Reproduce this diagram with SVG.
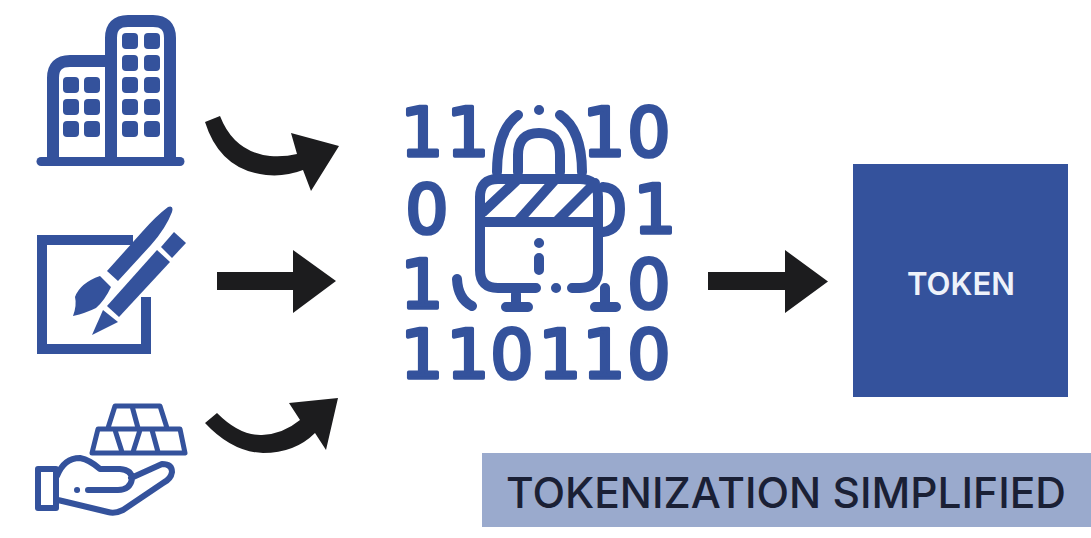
<svg xmlns="http://www.w3.org/2000/svg" width="1091" height="538" viewBox="0 0 1091 538">
<style>
.b{fill:#34529c}
.s{fill:none;stroke:#34529c;stroke-linecap:round;stroke-linejoin:round}
.k{fill:#1c1c1e}
.d{font-family:"DejaVu Sans",sans-serif;font-size:68px;fill:#34529c;stroke:#34529c;stroke-width:3.5px;stroke-linejoin:round;text-anchor:middle}
.t{font-family:Inter,sans-serif;font-weight:500}
</style>
<rect width="1091" height="538" fill="#fff"/>
<g id="building">
<path class="s" stroke-width="12" d="M53 160V78Q53 61 70 61H105M111 160V38Q111 21 128 21H153Q170 21 170 38V160"/>
<path class="s" stroke-width="9" d="M41 161.500H180"/>
<g class="b">
<rect x="63" y="77" width="16" height="16" rx="4"/><rect x="84" y="77" width="16" height="16" rx="4"/>
<rect x="63" y="99" width="16" height="16" rx="4"/><rect x="84" y="99" width="16" height="16" rx="4"/>
<rect x="63" y="121" width="16" height="16" rx="4"/><rect x="84" y="121" width="16" height="16" rx="4"/>
<rect x="122" y="33" width="16" height="16" rx="4"/><rect x="144" y="33" width="16" height="16" rx="4"/>
<rect x="122" y="55" width="16" height="16" rx="4"/><rect x="144" y="55" width="16" height="16" rx="4"/>
<rect x="122" y="77" width="16" height="16" rx="4"/><rect x="144" y="77" width="16" height="16" rx="4"/>
<rect x="122" y="99" width="16" height="16" rx="4"/><rect x="144" y="99" width="16" height="16" rx="4"/>
<rect x="122" y="121" width="16" height="16" rx="4"/><rect x="144" y="121" width="16" height="16" rx="4"/>
</g>
</g>
<g id="design">
<path fill="none" stroke="#34529c" stroke-width="10" d="M133 240H42V349H146V297"/>
<path class="b" d="M168 207Q174 205 172 212Q166 228 151 245L118 281L107 271L142 232Q156 216 168 207Z"/>
<path class="b" d="M100 276L111 287Q105 300 96 308Q86 313 73 316Q77 305 75 297Q80 283 100 276Z"/>
<path class="b" d="M174 232L186 243L172 258L161 247Z"/>
<path class="b" d="M157 250L170 262L119 317L107 306Z"/>
<path class="b" d="M103 310L118 322L92 335Z"/>
</g>
<g id="gold">
<path class="s" stroke-width="5" d="M108 428L115 406H160L167 428M98 429H180L185 453H92ZM132 406L138 428M115 430L122 452M140 430L133 452M152 430L158 452"/>
<path class="s" stroke-width="6" d="M38 469H56V508H38ZM57 476Q64 458 80 458Q90 460 100 469H120Q132 470 132 479Q130 490 118 490H88M77 490H77.100M131 478L162 464Q172 464 172 472Q171 479 163 483L123 510Q115 514 108 512L58 500"/>
</g>
<g id="binary">
<text class="d" x="422" y="156">1</text><text class="d" x="468" y="156">1</text>
<text class="d" x="604" y="156">1</text><text class="d" x="649" y="156">0</text>
<text class="d" x="427" y="233">0</text><text class="d" x="655" y="233">1</text>
<text class="d" x="422" y="308">1</text><text class="d" x="649" y="308">0</text>
<text class="d" x="422" y="378">1</text><text class="d" x="468" y="378">1</text><text class="d" x="512" y="378">0</text>
<text class="d" x="560" y="378">1</text><text class="d" x="604" y="378">1</text><text class="d" x="649" y="378">0</text>
<path class="s" stroke-width="10" d="M603 187Q620 188 620 209Q620 230 603 232M605 288V306M595 307H616M457 279Q458 299 472 306M506 307H528M516 294V306"/>
<path class="s" stroke-width="10" d="M539 110H539.100M518 115Q497 130 497 172M560 115Q582 130 582 172M518 172V155Q518 133 539 133Q560 133 560 155V172"/>
<path class="s" stroke-width="10" d="M536 288H498Q480 288 480 270V197Q480 179 498 179H580Q598 179 598 197V270Q598 288 580 288H572M556 288H556.100M481 222H598M483 212L516 181M519 220L554 181M558 220L595 183M539 243H539.100M539 258V270"/>
</g>
<g id="token">
<rect class="b" x="853" y="164" width="215" height="233"/>
<text class="t" x="907" y="295" font-size="31.500" fill="#eef2fa" style="font-weight:600" textLength="108" lengthAdjust="spacingAndGlyphs">TOKEN</text>
</g>
<g id="title">
<rect x="482" y="453" width="609" height="74" fill="#9aaacd"/>
<text class="t" x="506" y="508" font-size="42" fill="#1a2035" textLength="560" lengthAdjust="spacingAndGlyphs">TOKENIZATION SIMPLIFIED</text>
</g>
<g id="connectors">
<path class="k" d="M205 122L220 116Q234 152 270 156Q285 157 297 154L291 133L339 146L311 191L303 170Q285 177 266 175Q220 170 205 122Z"/>
<path class="k" d="M217 272H293V250L336 281L293 313V290H217Z"/>
<path class="k" d="M205 423L217 413Q240 436 262 435Q283 434 300 420L289 403L338 398L326 450L315 433Q295 453 263 453Q232 452 205 423Z"/>
<path class="k" d="M708 272H785V250L828 281.500L785 313V290H708Z"/>
</g>
</svg>
